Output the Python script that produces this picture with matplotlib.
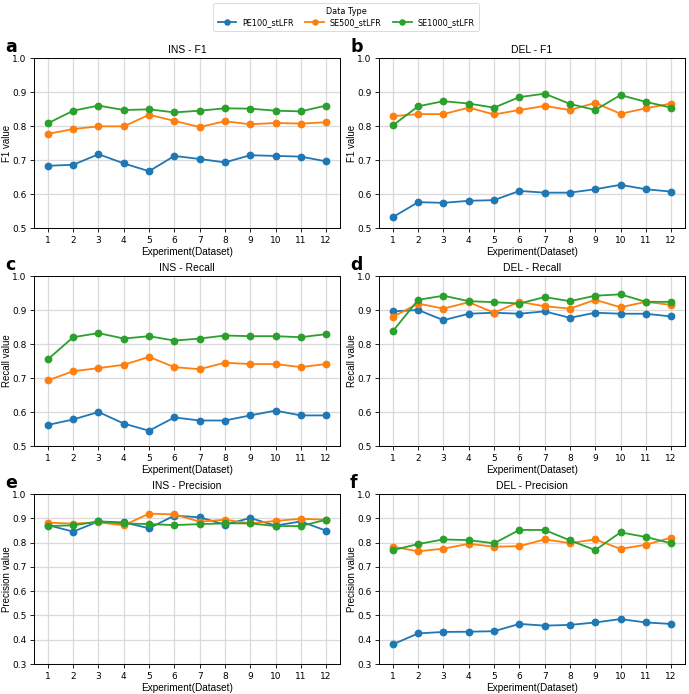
import matplotlib
matplotlib.use("Agg")
import matplotlib.pyplot as plt
import numpy as np

experiments = list(range(1, 13))
series_names = ["PE100_stLFR", "SE500_stLFR", "SE1000_stLFR"]
colors = ["#1f77b4", "#ff7f0e", "#2ca02c"]

ins_f1_pe100 = [0.683, 0.686, 0.717, 0.690, 0.667, 0.712, 0.703, 0.693, 0.714, 0.712, 0.710, 0.696]
ins_f1_se500 = [0.777, 0.791, 0.799, 0.799, 0.833, 0.815, 0.797, 0.814, 0.805, 0.809, 0.807, 0.811]
ins_f1_se1000 = [0.808, 0.845, 0.860, 0.847, 0.849, 0.840, 0.845, 0.852, 0.851, 0.845, 0.843, 0.860]

del_f1_pe100 = [0.532, 0.576, 0.574, 0.580, 0.582, 0.609, 0.604, 0.604, 0.614, 0.627, 0.614, 0.607]
del_f1_se500 = [0.829, 0.835, 0.835, 0.854, 0.834, 0.847, 0.859, 0.847, 0.868, 0.836, 0.852, 0.866]
del_f1_se1000 = [0.802, 0.858, 0.873, 0.866, 0.854, 0.885, 0.895, 0.865, 0.847, 0.891, 0.871, 0.854]

ins_rec_pe100 = [0.562, 0.578, 0.600, 0.566, 0.545, 0.584, 0.575, 0.575, 0.590, 0.604, 0.590, 0.590]
ins_rec_se500 = [0.693, 0.720, 0.729, 0.739, 0.762, 0.732, 0.726, 0.745, 0.741, 0.741, 0.732, 0.741]
ins_rec_se1000 = [0.755, 0.820, 0.832, 0.816, 0.823, 0.810, 0.816, 0.825, 0.823, 0.823, 0.820, 0.829]

del_rec_pe100 = [0.896, 0.900, 0.870, 0.889, 0.892, 0.889, 0.896, 0.877, 0.892, 0.889, 0.889, 0.881]
del_rec_se500 = [0.880, 0.919, 0.904, 0.923, 0.892, 0.924, 0.911, 0.904, 0.930, 0.908, 0.924, 0.915]
del_rec_se1000 = [0.838, 0.930, 0.942, 0.926, 0.923, 0.919, 0.938, 0.926, 0.942, 0.946, 0.924, 0.924]

ins_prec_pe100 = [0.872, 0.845, 0.887, 0.883, 0.859, 0.911, 0.904, 0.874, 0.901, 0.870, 0.887, 0.849]
ins_prec_se500 = [0.882, 0.878, 0.883, 0.871, 0.919, 0.916, 0.886, 0.894, 0.879, 0.889, 0.898, 0.894]
ins_prec_se1000 = [0.868, 0.871, 0.887, 0.879, 0.876, 0.872, 0.876, 0.879, 0.879, 0.868, 0.868, 0.894]

del_prec_pe100 = [0.381, 0.426, 0.432, 0.433, 0.435, 0.465, 0.458, 0.461, 0.471, 0.485, 0.471, 0.465]
del_prec_se500 = [0.783, 0.764, 0.775, 0.795, 0.783, 0.785, 0.813, 0.798, 0.813, 0.774, 0.791, 0.820]
del_prec_se1000 = [0.769, 0.794, 0.813, 0.810, 0.797, 0.852, 0.852, 0.809, 0.769, 0.842, 0.823, 0.797]

panels = [
    ("a", "INS - F1", "F1 value", (0.5, 1.0), [ins_f1_pe100, ins_f1_se500, ins_f1_se1000]),
    ("b", "DEL - F1", "F1 value", (0.5, 1.0), [del_f1_pe100, del_f1_se500, del_f1_se1000]),
    ("c", "INS - Recall", "Recall value", (0.5, 1.0), [ins_rec_pe100, ins_rec_se500, ins_rec_se1000]),
    ("d", "DEL - Recall", "Recall value", (0.5, 1.0), [del_rec_pe100, del_rec_se500, del_rec_se1000]),
    ("e", "INS - Precision", "Precision value", (0.3, 1.0), [ins_prec_pe100, ins_prec_se500, ins_prec_se1000]),
    ("f", "DEL - Precision", "Precision value", (0.3, 1.0), [del_prec_pe100, del_prec_se500, del_prec_se1000]),
]

LAB_FONT = ["Liberation Sans", "DejaVu Sans"]

W, H = 689, 694
fig = plt.figure(figsize=(W / 100, H / 100), dpi=100)

lefts = [34, 379]
tops = [58, 276, 494]
ax_w = 306
ax_h = 170

handles = None
for i, (letter, title, ylabel, ylim, data) in enumerate(panels):
    row, col = divmod(i, 2)
    l = lefts[col]
    t = tops[row]
    ax = fig.add_axes([l / W, 1 - (t + ax_h) / H, ax_w / W, ax_h / H])
    hs = []
    for name, vals, c in zip(series_names, data, colors):
        h, = ax.plot(experiments, vals, marker="o", color=c, lw=1.3, ms=4.6, label=name)
        hs.append(h)
    handles = hs
    ax.set_ylim(*ylim)
    ax.set_yticks(np.arange(ylim[0], ylim[1] + 0.001, 0.1))
    ax.set_xticks(experiments)
    ax.set_xlim(0.45, 12.55)
    ax.grid(True, color="#d9d9d9", lw=0.9)
    ax.set_axisbelow(True)
    ax.tick_params(labelsize=6.5, length=3, width=0.6, pad=2.5)
    for s in ax.spines.values():
        s.set_linewidth(0.7)
    ax.set_title(title, fontsize=7.5, pad=3.5, family=LAB_FONT)
    ax.set_ylabel(ylabel, fontsize=7, family=LAB_FONT)
    ax.yaxis.set_label_coords(-(34 - 12) / ax_w, 0.5)
    ax.set_xlabel("Experiment(Dataset)", fontsize=7.2, labelpad=1.5, family=LAB_FONT)
    fig.text((l - 29) / W, 1 - (t - 11) / H, letter, fontsize=12.5, fontweight="bold",
             ha="left", va="center")

leg = fig.legend(handles, series_names, loc="center", bbox_to_anchor=(346 / W, 1 - 17 / H),
                 ncol=3, fontsize=5.9, title="Data Type", title_fontsize=5.9,
                 frameon=True, handlelength=2.3, columnspacing=1.4, borderpad=0.5,
                 handletextpad=0.7, labelspacing=0.2, markerscale=0.8)
leg.get_frame().set_linewidth(0.6)
leg.get_frame().set_edgecolor("#cccccc")

fig.savefig("out.png", dpi=100)
